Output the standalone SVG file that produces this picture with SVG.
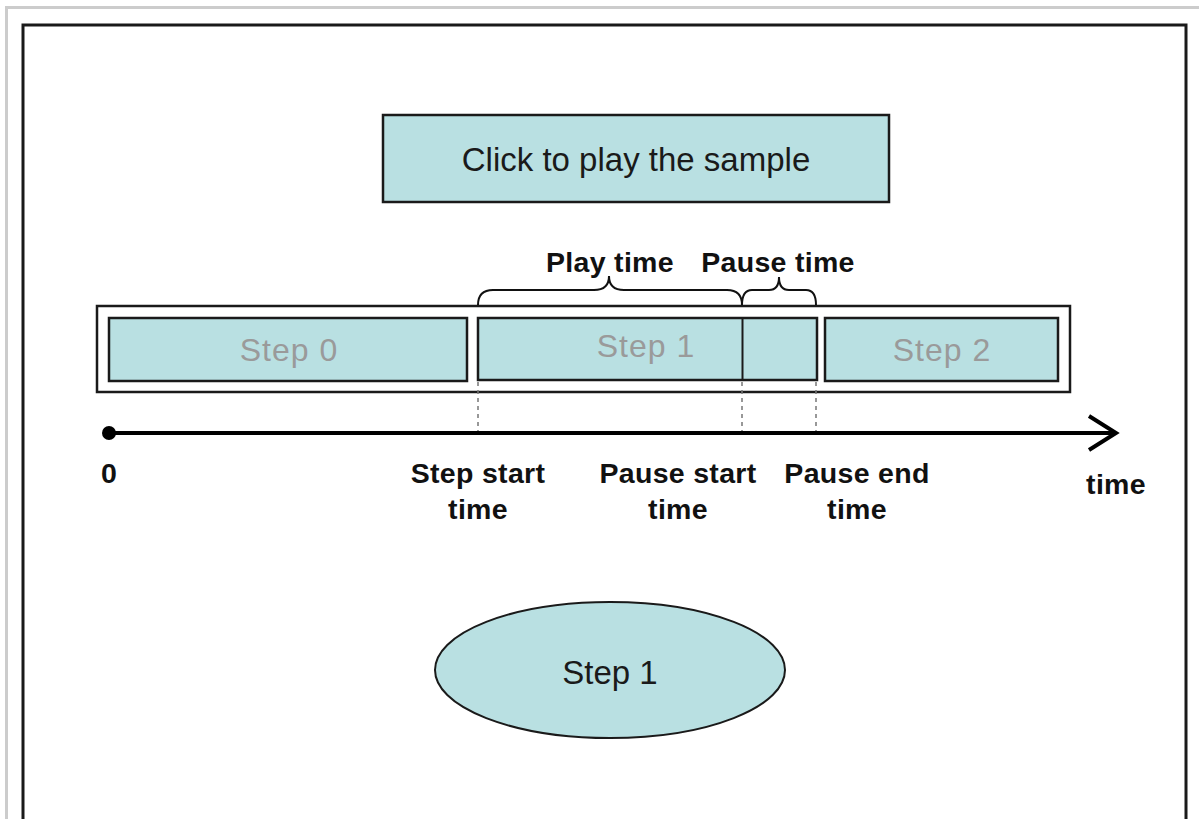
<svg xmlns="http://www.w3.org/2000/svg" width="1199" height="819" viewBox="0 0 1199 819">
<style>
.box{fill:#b9e0e2;stroke:#1a1a1a;stroke-width:2.5}
.gtxt{font-family:"Liberation Sans",Arial,sans-serif;font-size:32px;letter-spacing:1px;fill:#9a9a9a;text-anchor:middle}
.btxt{font-family:"Liberation Sans",Arial,sans-serif;font-size:33px;fill:#1a1a1a;text-anchor:middle}
.lbl{font-family:"Liberation Sans",Arial,sans-serif;font-size:28.5px;letter-spacing:0.3px;font-weight:bold;fill:#111;text-anchor:middle}
.dot{stroke:#777;stroke-width:1.5;stroke-dasharray:4 4;fill:none}
.brace{fill:none;stroke:#111;stroke-width:2}
</style>
<rect x="0" y="0" width="1199" height="819" fill="#fff"/>
<rect x="6.5" y="7.5" width="1220" height="830" fill="none" stroke="#cccccc" stroke-width="3"/>
<rect x="23" y="25" width="1163" height="820" fill="none" stroke="#1a1a1a" stroke-width="3"/>
<g id="play-button">
<rect class="box" x="383" y="115" width="506" height="87"/>
<text class="btxt" x="636" y="171">Click to play the sample</text>
</g>
<g id="step-bar">
<rect x="97" y="306" width="973" height="86" fill="#fff" stroke="#1a1a1a" stroke-width="2.5"/>
</g>
<g id="step0">
<rect class="box" x="109" y="318" width="358" height="63"/>
<text class="gtxt" x="289" y="361">Step 0</text>
</g>
<g id="step1">
<rect class="box" x="478" y="318" width="339" height="62"/>
<line x1="742.5" y1="318" x2="742.5" y2="380" stroke="#1a1a1a" stroke-width="2"/>
<text class="gtxt" x="646" y="357">Step 1</text>
</g>
<g id="step2">
<rect class="box" x="825" y="318" width="233" height="63"/>
<text class="gtxt" x="942" y="361">Step 2</text>
</g>
<g id="braces">
<path class="brace" d="M478,305 Q478,290 493,290 L594,290 Q609,290 609,276 Q609,290 624,290 L727,290 Q742,290 742,305"/>
<path class="brace" d="M742,305 Q742,290 752,290 L769,290 Q779,290 779,277 Q779,290 789,290 L806,290 Q816,290 816,305"/>
<text class="lbl" x="610" y="272">Play time</text>
<text class="lbl" x="778" y="272">Pause time</text>
</g>
<g id="connectors">
<line class="dot" x1="478" y1="382" x2="478" y2="432"/>
<line class="dot" x1="742" y1="382" x2="742" y2="432"/>
<line class="dot" x1="816" y1="382" x2="816" y2="432"/>
<line x1="109" y1="433" x2="1114" y2="433" stroke="#000" stroke-width="4"/>
<circle cx="109" cy="433" r="7" fill="#000"/>
<polyline points="1089,416 1116,433 1089,450" fill="none" stroke="#000" stroke-width="4"/>
</g>
<g id="labels">
<text class="lbl" x="109" y="483">0</text>
<text class="lbl" x="478" y="483">Step start</text>
<text class="lbl" x="478" y="519">time</text>
<text class="lbl" x="678" y="483">Pause start</text>
<text class="lbl" x="678" y="519">time</text>
<text class="lbl" x="857" y="483">Pause end</text>
<text class="lbl" x="857" y="519">time</text>
<text class="lbl" x="1116" y="494">time</text>
</g>
<g id="step1-ellipse">
<ellipse cx="610" cy="670" rx="175" ry="68" fill="#b9e0e2" stroke="#1a1a1a" stroke-width="2"/>
<text class="btxt" x="610" y="684">Step 1</text>
</g>
</svg>
